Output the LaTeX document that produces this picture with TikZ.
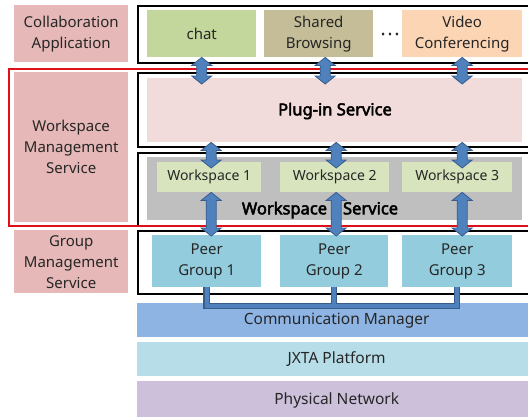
\documentclass[tikz,border=0pt]{standalone}
\usepackage{fontspec}
\setmainfont{Noto Sans}[AutoFakeBold=3]
\usetikzlibrary{calc}
\definecolor{labpink}{HTML}{E6B9B8}
\definecolor{txt}{HTML}{262626}
\definecolor{chatg}{HTML}{C3D69B}
\definecolor{sbtan}{HTML}{C4BD97}
\definecolor{vcpeach}{HTML}{FCD5B5}
\definecolor{plugpink}{HTML}{F2DCDB}
\definecolor{wsgrey}{HTML}{BFBFBF}
\definecolor{wsgreen}{HTML}{D7E4BD}
\definecolor{peer}{HTML}{93CDDD}
\definecolor{cmblue}{HTML}{8EB4E3}
\definecolor{jxta}{HTML}{B7DEE8}
\definecolor{phys}{HTML}{CCC0DA}
\definecolor{arrblue}{HTML}{4F81BD}
\definecolor{arrdark}{HTML}{385D8A}
\definecolor{redline}{HTML}{E0101A}
\begin{document}
\begin{tikzpicture}[x=1pt,y=-1pt,
  box/.style={rectangle, inner sep=0pt, anchor=north west, align=center, text=txt,
    font=\fontsize{15}{21}\selectfont},
  lab/.style={box, fill=labpink},
  frm/.style={rectangle, inner sep=0pt, anchor=north west, draw=black, line width=1.5pt},
  wsbox/.style={box, fill=wsgreen, font=\fontsize{14}{18}\selectfont},
  pgbox/.style={box, fill=peer},
  layer/.style={box, font=\fontsize{15.5}{21}\selectfont},
  boldtxt/.style={text=black, font=\fontsize{16.5}{18}\selectfont\bfseries},
  blockarr/.style={fill=arrblue, draw=arrdark, line width=0.8pt,
    to path={let \p1=(\tikztostart), \p2=(\tikztotarget) in
      (\x1,\y1) -- (\x1+10pt,\y1-8pt) -- (\x1+5pt,\y1-8pt) -- (\x1+5pt,\y2+8pt)
      -- (\x1+10pt,\y2+8pt) -- (\x1,\y2) -- (\x1-10pt,\y2+8pt) -- (\x1-5pt,\y2+8pt)
      -- (\x1-5pt,\y1-8pt) -- (\x1-10pt,\y1-8pt) -- cycle}},
  connout/.style={draw=arrdark, line width=6.5pt},
  connin/.style={draw=arrblue, line width=4pt}
]
\useasboundingbox (0,0) rectangle (528,416);

% left labels
\node[lab, minimum width=114pt, minimum height=57pt] (ca) at (14,5) {Collaboration\\Application};
\node[lab, minimum width=114pt, minimum height=150pt] (wms) at (14,72) {Workspace\\Management\\Service};
\node[lab, minimum width=114pt, minimum height=63pt] (gms) at (14,230) {Group\\Management\\Service};

% frames
\node[frm, minimum width=395pt, minimum height=57pt] (f1) at (137,5) {};
\node[frm, minimum width=395pt, minimum height=74pt] (f2) at (137,72) {};
\node[frm, minimum width=395pt, minimum height=73pt] (f3) at (137,152) {};
\node[frm, minimum width=395pt, minimum height=63pt] (f4) at (137,230) {};

% row 1
\node[box, fill=chatg, minimum width=109pt, minimum height=47pt] (chat) at (147,10) {chat};
\node[box, fill=sbtan, minimum width=109pt, minimum height=47pt] (sb) at (264,10) {Shared\\Browsing};
\node[text=txt, font=\fontsize{16}{18}\selectfont\bfseries, inner sep=0pt] (dots) at (390,34) {.\,.\,.};
\node[box, fill=vcpeach, minimum width=120pt, minimum height=47pt] (vc) at (402,10) {Video\\Conferencing};

% plug-in
\node[box, fill=plugpink, minimum width=375pt, minimum height=64pt] (plugin) at (147,78) {};
\node[boldtxt] (plugtxt) at (335,111) {Plug-in Service};

% workspace service
\node[box, fill=wsgrey, minimum width=375pt, minimum height=63pt] (wss) at (147,157) {};
\node[boldtxt] (wsstxt) at (320,210) {Workspace\hspace{16pt}Service};
\node[wsbox, minimum width=104pt, minimum height=30pt] (ws1) at (157,162) {Workspace 1};
\node[wsbox, minimum width=109pt, minimum height=30pt] (ws2) at (280,162) {Workspace 2};
\node[wsbox, minimum width=110pt, minimum height=30pt] (ws3) at (402,162) {Workspace 3};

% peer groups
\node[pgbox, minimum width=109pt, minimum height=52pt] (pg1) at (152,235) {Peer\\Group 1};
\node[pgbox, minimum width=108pt, minimum height=52pt] (pg2) at (280,235) {Peer\\Group 2};
\node[pgbox, minimum width=110pt, minimum height=52pt] (pg3) at (402,235) {Peer\\Group 3};

% layers
\node[layer, fill=cmblue, minimum width=395pt, minimum height=34pt] (cm) at (137,303) {\hspace{4pt}Communication Manager};
\node[layer, fill=jxta, minimum width=395pt, minimum height=34pt] (jx) at (137,342) {\hspace{4pt}JXTA Platform};
\node[layer, fill=phys, minimum width=395pt, minimum height=38pt] (pn) at (137,381) {\hspace{4pt}Physical Network};

% red outline
\draw[redline, line width=2pt] (9,69) rectangle (532,226);

% peer group bus
\coordinate (bus) at (0,306);
\draw[connout] (pg1.south) |- (bus -| pg3.south) -- (pg3.south);
\draw[connout] (pg2.south) -- (pg2.south |- bus);
\draw[connin] (pg1.south) |- (bus -| pg3.south) -- (pg3.south);
\draw[connin] (pg2.south) -- (pg2.south |- bus);

% block arrows
\draw[blockarr] (chat.south) to ([yshift=-6pt]chat.south |- plugin.north);
\draw[blockarr] ([xshift=6.5pt]sb.south) to ([xshift=6.5pt,yshift=-6pt]sb.south |- plugin.north);
\draw[blockarr] (vc.south) to ([yshift=-6pt]vc.south |- plugin.north);

\draw[blockarr] ([xshift=2pt]ws1.north |- plugin.south) to ([xshift=2pt,yshift=-6pt]ws1.north);
\draw[blockarr] ([xshift=1.5pt]ws2.north |- plugin.south) to ([xshift=1.5pt,yshift=-6pt]ws2.north);
\draw[blockarr] ([xshift=5pt]ws3.north |- plugin.south) to ([xshift=5pt,yshift=-6pt]ws3.north);

\draw[blockarr] ([xshift=2pt]ws1.south) to ([xshift=2pt,yshift=-1pt]ws1.south |- pg1.north);
\draw[blockarr] ([xshift=1.5pt]ws2.south) to ([xshift=1.5pt,yshift=-1pt]ws2.south |- pg2.north);
\draw[blockarr] ([xshift=5pt]ws3.south) to ([xshift=5pt,yshift=-1pt]ws3.south |- pg3.north);
\end{tikzpicture}
\end{document}
